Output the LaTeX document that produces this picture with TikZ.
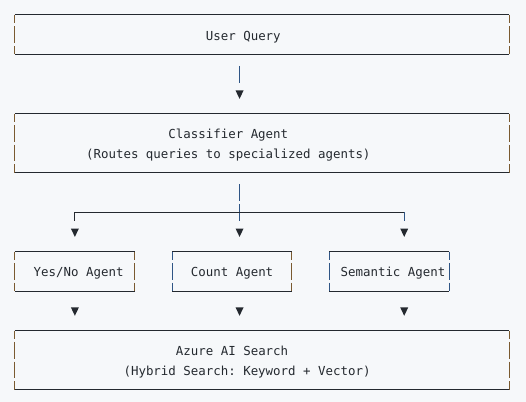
\documentclass[tikz,border=0pt]{standalone}
\usepackage{fontspec}
\setmonofont{DejaVu Sans Mono}
\definecolor{bg}{HTML}{F6F8FA}
\definecolor{ink}{HTML}{24292F}
\definecolor{barO}{HTML}{7A5A30}
\definecolor{barB}{HTML}{2F5585}
\tikzset{
  hline/.style={draw=ink, line width=1pt},
  vline/.style={line width=1pt},
  txt/.style={font=\ttfamily\fontsize{12.43}{14}\selectfont, text=ink, inner sep=0pt, anchor=base, yshift=-5.3pt},
  tip/.style={fill=ink}
}
% vertical bar made of glyph segments: col, first row, last row, colour
\newcommand\glyphbar[4]{%
  \draw[vline, draw=#4] (#1,#2) -- ({#1},{#2+0.424});
  \foreach \k in {\the\numexpr#2+1\relax,...,\the\numexpr#3-1\relax}{%
    \draw[vline, draw=#4] ({#1},{\k-0.424}) -- ({#1},{\k+0.424});}
  \draw[vline, draw=#4] ({#1},{#3-0.424}) -- (#1,#3);
}
% ascii box: name, col0, col1, row0, row1, left colour, right colour
\newcommand\asciibox[7]{%
  \coordinate (#1-nw) at (#2,#4);
  \coordinate (#1-ne) at (#3,#4);
  \coordinate (#1-sw) at (#2,#5);
  \coordinate (#1-se) at (#3,#5);
  \draw[hline] (#1-nw) -- (#1-ne);
  \draw[hline] (#1-sw) -- (#1-se);
  \glyphbar{#2}{#4}{#5}{#6}
  \glyphbar{#3}{#4}{#5}{#7}
}
\newcommand\tri[1]{%
  \fill[tip] ([shift={(-4pt,3.4pt)}]#1) -- ([shift={(4pt,3.4pt)}]#1) -- ([shift={(0pt,-5pt)}]#1) -- cycle;
}
\begin{document}
\begin{tikzpicture}[x=7.485pt, y=-19.72pt]
  \path[use as bounding box, fill=bg] (-2.004,-0.7606) rectangle (68.27,19.625);

  % boxes
  \asciibox{query}{0}{66}{0}{2}{barO}{barO}
  \asciibox{classifier}{0}{66}{5}{8}{barO}{barO}
  \asciibox{yesno}{0}{16}{12}{14}{barO}{barO}
  \asciibox{count}{21}{37}{12}{14}{barB}{barO}
  \asciibox{semantic}{42}{58}{12}{14}{barB}{barB}
  \asciibox{azure}{0}{66}{16}{19}{barO}{barO}

  % texts
  \node[txt] (tq) at (30.5,1) {User Query};
  \node[txt] (tc1) at (28.5,6) {Classifier Agent};
  \node[txt] (tc2) at (28.5,7) {(Routes queries to specialized agents)};
  \node[txt] (ty) at (8.5,13) {Yes/No Agent};
  \node[txt] (tn) at (29,13) {Count Agent};
  \node[txt] (ts) at (50.5,13) {Semantic Agent};
  \node[txt] (ta1) at (29,17) {Azure AI Search};
  \node[txt] (ta2) at (31,18) {(Hybrid Search: Keyword + Vector)};

  % connector glyph coordinates
  \coordinate (c1top) at (30,{3-0.424});
  \coordinate (c1bot) at (30,{3+0.424});
  \coordinate (a1) at (30,4);
  \coordinate (c2top) at (30,{9-0.424});
  \coordinate (c2bot) at (30,{9+0.424});
  \coordinate (c3top) at (30,{10-0.424});
  \coordinate (c3bot) at (30,{10+0.424});
  \coordinate (brL) at (8,10);
  \coordinate (brR) at (52,10);
  \coordinate (brLd) at (8,{10+0.424});
  \coordinate (brRd) at (52,{10+0.424});
  \coordinate (a2) at (8,11);
  \coordinate (a3) at (30,11);
  \coordinate (a4) at (52,11);
  \coordinate (a5) at (8,15);
  \coordinate (a6) at (30,15);
  \coordinate (a7) at (52,15);

  \draw[vline, draw=barB] (c1top) -- (c1bot);
  \tri{a1}
  \draw[vline, draw=barB] (c2top) -- (c2bot);
  \draw[vline, draw=barB] (c3top) -- (c3bot);
  \draw[hline] (brL) -- (brR);
  \draw[vline, draw=ink] (brL) -- (brLd);
  \draw[vline, draw=barB] (brR) -- (brRd);
  \tri{a2}
  \tri{a3}
  \tri{a4}
  \tri{a5}
  \tri{a6}
  \tri{a7}
\end{tikzpicture}
\end{document}
